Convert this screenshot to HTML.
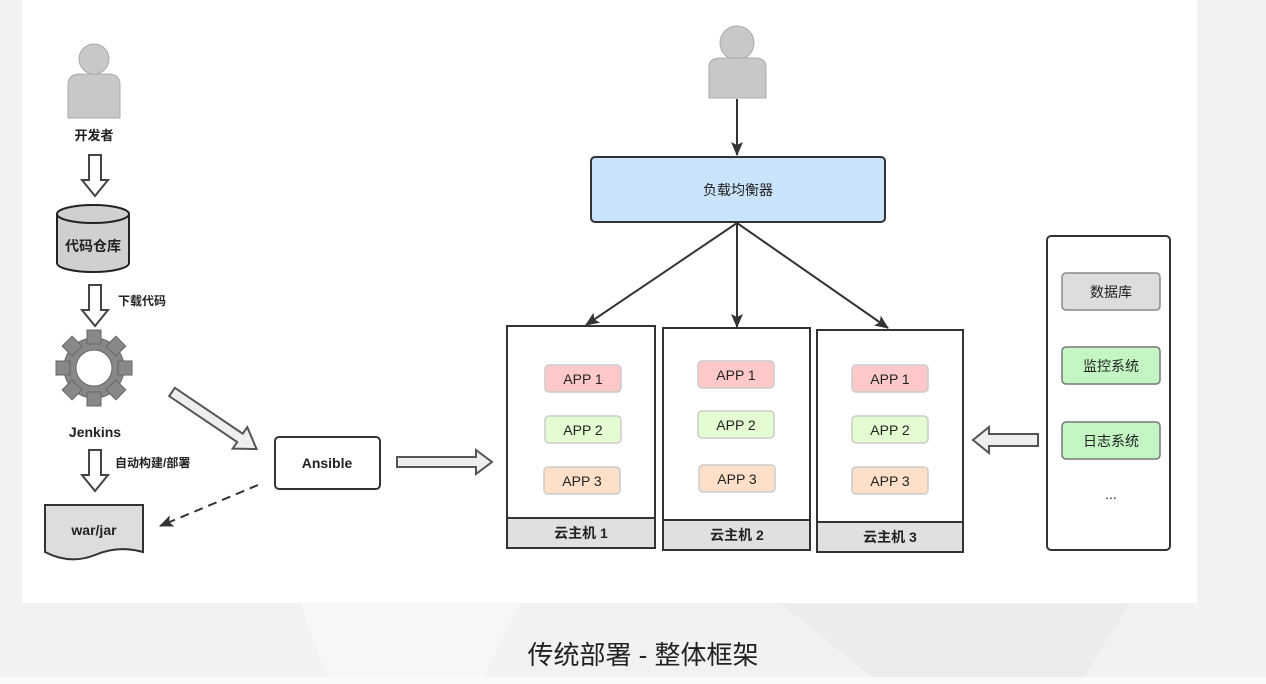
<!DOCTYPE html>
<html><head><meta charset="utf-8"><style>
html,body{margin:0;padding:0;width:1266px;height:684px;overflow:hidden;background:#f2f2f2}
svg{display:block}
text{font-family:"Liberation Sans","Noto Sans CJK SC",sans-serif;fill:#222}
</style></head><body>
<svg width="1266" height="684" viewBox="0 0 1266 684" xmlns="http://www.w3.org/2000/svg">
<defs>
<marker id="ah" markerWidth="10" markerHeight="10" refX="9" refY="5" orient="auto" markerUnits="userSpaceOnUse"><path d="M0,0 L10,5 L0,10 L3,5z" fill="#333"/></marker>
<marker id="ah2" markerWidth="14" markerHeight="12" refX="13" refY="6" orient="auto" markerUnits="userSpaceOnUse"><path d="M0,0 L14,6 L0,12 L3,6z" fill="#333"/></marker>
</defs>
<rect x="0" y="0" width="1266" height="684" fill="#f2f2f2"/>
<polygon points="300,603 520,603 480,684 330,684" fill="#f7f7f7"/>
<polygon points="780,603 1130,603 1080,684 880,684" fill="#ececec"/>
<rect x="0" y="677" width="1266" height="7" fill="#fafafa"/>
<rect x="22" y="0" width="1175" height="603" fill="#fff"/>

<!-- dev person -->
<g fill="#c8c8c8" stroke="#aaa" stroke-width="1">
<circle cx="94" cy="59" r="15"/>
<path d="M68,118 L68,85 Q68,74 80,74 L108,74 Q120,74 120,85 L120,118z"/>
</g>
<text x="94" y="140" font-size="13" font-weight="bold" text-anchor="middle">开发者</text>
<!-- hollow arrows -->
<g fill="#fff" stroke="#444" stroke-width="2">
<path d="M89,155 L101,155 L101,180 L108,180 L95,196 L82,180 L89,180z"/>
<path d="M89,285 L101,285 L101,310 L108,310 L95,326 L82,310 L89,310z"/>
<path d="M89,450 L101,450 L101,475 L108,475 L95,491 L82,475 L89,475z"/>
</g>
<!-- cylinder -->
<path d="M57,214 L57,263 A36,9 0 0 0 129,263 L129,214" fill="#d0d0d0" stroke="#222" stroke-width="2"/>
<ellipse cx="93" cy="214" rx="36" ry="9" fill="#d0d0d0" stroke="#222" stroke-width="2"/>
<text x="93" y="251" font-size="14" font-weight="bold" text-anchor="middle">代码仓库</text>
<text x="118" y="305" font-size="12" font-weight="bold">下载代码</text>
<!-- gear -->
<g transform="translate(94,368)" fill="#888" stroke="#666">
<circle r="30"/>
<g>
<rect x="-7" y="-38" width="14" height="14"/>
<rect x="-7" y="24" width="14" height="14"/>
<rect x="-38" y="-7" width="14" height="14"/>
<rect x="24" y="-7" width="14" height="14"/>
<rect x="-7" y="-38" width="14" height="14" transform="rotate(45)"/>
<rect x="-7" y="-38" width="14" height="14" transform="rotate(135)"/>
<rect x="-7" y="-38" width="14" height="14" transform="rotate(225)"/>
<rect x="-7" y="-38" width="14" height="14" transform="rotate(315)"/>
</g>
<circle r="18" fill="#fff" stroke="#666"/>
</g>
<text x="95" y="437" font-size="14" font-weight="bold" text-anchor="middle">Jenkins</text>
<text x="115" y="467" font-size="12" font-weight="bold">自动构建/部署</text>
<!-- war/jar -->
<path d="M45,505 L143,505 L143,552 Q118,545 95,555 Q70,565 45,552z" fill="#ddd" stroke="#333" stroke-width="2"/>
<text x="94" y="535" font-size="14" font-weight="bold" text-anchor="middle">war/jar</text>
<!-- diag hollow arrow -->
<g transform="translate(172,392) rotate(34)">
<path d="M0,-5 L82,-5 L82,-13 L102,0 L82,13 L82,5 L0,5z" fill="#eee" stroke="#555" stroke-width="2"/>
</g>
<!-- Ansible -->
<rect x="275" y="437" width="105" height="52" rx="4" fill="#fff" stroke="#333" stroke-width="2"/>
<text x="327" y="468" font-size="14" font-weight="bold" text-anchor="middle">Ansible</text>
<line x1="258" y1="485" x2="160" y2="526" stroke="#333" stroke-width="2" stroke-dasharray="9,6" marker-end="url(#ah2)"/>
<!-- right hollow arrow -->
<path d="M397,457 L476,457 L476,450 L492,462 L476,474 L476,467 L397,467z" fill="#eee" stroke="#555" stroke-width="2"/>

<!-- top person -->
<g fill="#c8c8c8" stroke="#aaa" stroke-width="1">
<circle cx="737" cy="43" r="17"/>
<path d="M709,98 L709,67 Q709,58 720,58 L754,58 Q766,58 766,67 L766,98z"/>
</g>
<line x1="737" y1="99" x2="737" y2="155" stroke="#333" stroke-width="2" marker-end="url(#ah2)"/>
<rect x="591" y="157" width="294" height="65" rx="4" fill="#c9e3fb" stroke="#333" stroke-width="2"/>
<text x="738" y="195" font-size="14" text-anchor="middle">负载均衡器</text>
<g stroke="#333" stroke-width="2">
<line x1="737" y1="223" x2="586" y2="325" marker-end="url(#ah2)"/>
<line x1="737" y1="223" x2="737" y2="327" marker-end="url(#ah2)"/>
<line x1="737" y1="223" x2="888" y2="328" marker-end="url(#ah2)"/>
</g>

<!-- hosts -->
<g stroke="#333" stroke-width="2">
<rect x="507" y="326" width="148" height="222" fill="#fff"/>
<rect x="507" y="518" width="148" height="30" fill="#e0e0e0"/>
<rect x="663" y="328" width="147" height="222" fill="#fff"/>
<rect x="663" y="520" width="147" height="30" fill="#e0e0e0"/>
<rect x="817" y="330" width="146" height="222" fill="#fff"/>
<rect x="817" y="522" width="146" height="30" fill="#e0e0e0"/>
</g>
<g font-size="14" font-weight="bold" text-anchor="middle">
<text x="581" y="538">云主机 1</text>
<text x="737" y="540">云主机 2</text>
<text x="890" y="542">云主机 3</text>
</g>
<g stroke="#ccc" stroke-width="1.5">
<rect x="545" y="365" width="76" height="27" rx="4" fill="#ffc9c9"/>
<rect x="545" y="416" width="76" height="27" rx="4" fill="#e3fcd2"/>
<rect x="544" y="467" width="76" height="27" rx="4" fill="#fde0c7"/>
<rect x="698" y="361" width="76" height="27" rx="4" fill="#ffc9c9"/>
<rect x="698" y="411" width="76" height="27" rx="4" fill="#e3fcd2"/>
<rect x="699" y="465" width="76" height="27" rx="4" fill="#fde0c7"/>
<rect x="852" y="365" width="76" height="27" rx="4" fill="#ffc9c9"/>
<rect x="852" y="416" width="76" height="27" rx="4" fill="#e3fcd2"/>
<rect x="852" y="467" width="76" height="27" rx="4" fill="#fde0c7"/>
</g>
<g font-size="14" text-anchor="middle">
<text x="583" y="384">APP 1</text><text x="583" y="435">APP 2</text><text x="582" y="486">APP 3</text>
<text x="736" y="380">APP 1</text><text x="736" y="430">APP 2</text><text x="737" y="484">APP 3</text>
<text x="890" y="384">APP 1</text><text x="890" y="435">APP 2</text><text x="890" y="486">APP 3</text>
</g>
<!-- left hollow arrow -->
<path d="M1038,434 L989,434 L989,427 L973,440 L989,453 L989,446 L1038,446z" fill="#eee" stroke="#555" stroke-width="2"/>
<!-- right panel -->
<rect x="1047" y="236" width="123" height="314" rx="4" fill="#fff" stroke="#333" stroke-width="2"/>
<rect x="1062" y="273" width="98" height="37" rx="4" fill="#ddd" stroke="#888" stroke-width="1.5"/>
<rect x="1062" y="347" width="98" height="37" rx="4" fill="#c4f6c4" stroke="#777" stroke-width="1.5"/>
<rect x="1062" y="422" width="98" height="37" rx="4" fill="#c4f6c4" stroke="#777" stroke-width="1.5"/>
<g font-size="14" text-anchor="middle">
<text x="1111" y="297">数据库</text>
<text x="1111" y="371">监控系统</text>
<text x="1111" y="446">日志系统</text>
<text x="1111" y="499">...</text>
</g>
<text x="643" y="664" font-size="26" text-anchor="middle" fill="#111">传统部署 - 整体框架</text>
</svg>
</body></html>
